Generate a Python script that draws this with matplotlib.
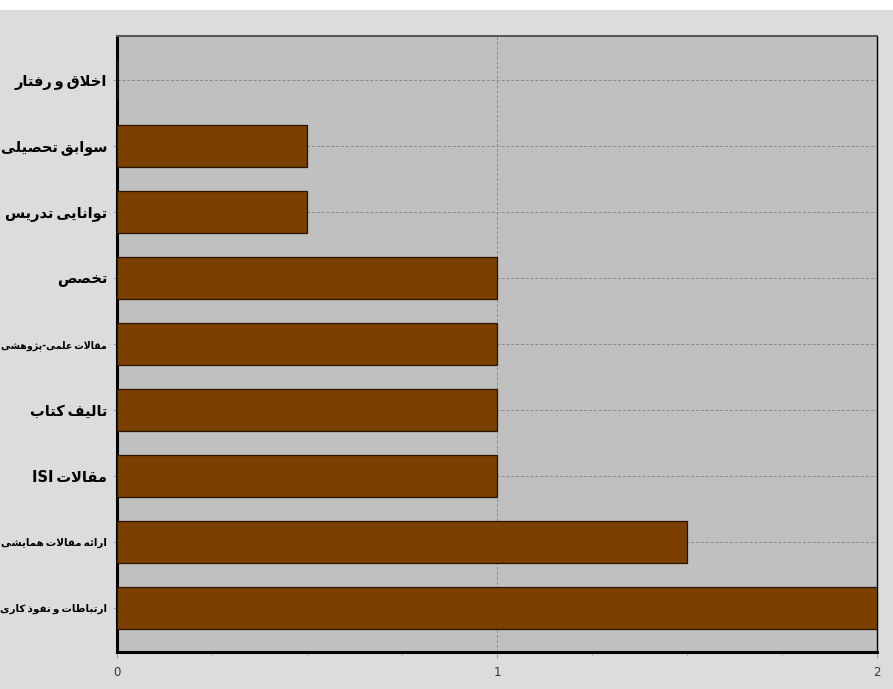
import re
import matplotlib
matplotlib.use("Agg")
import matplotlib.pyplot as plt
from matplotlib.patches import Rectangle
from matplotlib.ticker import MultipleLocator

# ---------------- data ----------------
categories = [
    "اخلاق و رفتار",
    "سوابق تحصیلی",
    "توانایی تدریس",
    "تخصص",
    "مقالات علمی-پژوهشی",
    "تالیف کتاب",
    "مقالات ISI",
    "ارائه مقالات همایشی",
    "ارتباطات و نفوذ کاری",
]
values = [0, 0.5, 0.5, 1, 1, 1, 1, 1.5, 2]
xticks = [0, 1, 2]

# ------------- minimal Persian shaping (presentation forms + RTL) -------------
DUAL = {
    'ب': (0xFE8F, 0xFE90, 0xFE91, 0xFE92), 'پ': (0xFB56, 0xFB57, 0xFB58, 0xFB59),
    'ت': (0xFE95, 0xFE96, 0xFE97, 0xFE98), 'ث': (0xFE99, 0xFE9A, 0xFE9B, 0xFE9C),
    'ج': (0xFE9D, 0xFE9E, 0xFE9F, 0xFEA0), 'چ': (0xFB7A, 0xFB7B, 0xFB7C, 0xFB7D),
    'ح': (0xFEA1, 0xFEA2, 0xFEA3, 0xFEA4), 'خ': (0xFEA5, 0xFEA6, 0xFEA7, 0xFEA8),
    'س': (0xFEB1, 0xFEB2, 0xFEB3, 0xFEB4), 'ش': (0xFEB5, 0xFEB6, 0xFEB7, 0xFEB8),
    'ص': (0xFEB9, 0xFEBA, 0xFEBB, 0xFEBC), 'ض': (0xFEBD, 0xFEBE, 0xFEBF, 0xFEC0),
    'ط': (0xFEC1, 0xFEC2, 0xFEC3, 0xFEC4), 'ظ': (0xFEC5, 0xFEC6, 0xFEC7, 0xFEC8),
    'ع': (0xFEC9, 0xFECA, 0xFECB, 0xFECC), 'غ': (0xFECD, 0xFECE, 0xFECF, 0xFED0),
    'ف': (0xFED1, 0xFED2, 0xFED3, 0xFED4), 'ق': (0xFED5, 0xFED6, 0xFED7, 0xFED8),
    'ک': (0xFB8E, 0xFB8F, 0xFB90, 0xFB91), 'گ': (0xFB92, 0xFB93, 0xFB94, 0xFB95),
    'ل': (0xFEDD, 0xFEDE, 0xFEDF, 0xFEE0), 'م': (0xFEE1, 0xFEE2, 0xFEE3, 0xFEE4),
    'ن': (0xFEE5, 0xFEE6, 0xFEE7, 0xFEE8), 'ه': (0xFEE9, 0xFEEA, 0xFEEB, 0xFEEC),
    'ی': (0xFBFC, 0xFBFD, 0xFBFE, 0xFBFF), 'ئ': (0xFE89, 0xFE8A, 0xFE8B, 0xFE8C),
}
RIGHT = {
    'ا': (0xFE8D, 0xFE8E), 'آ': (0xFE81, 0xFE82), 'د': (0xFEA9, 0xFEAA),
    'ذ': (0xFEAB, 0xFEAC), 'ر': (0xFEAD, 0xFEAE), 'ز': (0xFEAF, 0xFEB0),
    'ژ': (0xFB8A, 0xFB8B), 'و': (0xFEED, 0xFEEE),
}
LAMALEF = {'ا': (0xFEFB, 0xFEFC), 'آ': (0xFEF5, 0xFEF6)}


def shape(text):
    out = []
    n = len(text)
    i = 0
    while i < n:
        c = text[i]
        prev = text[i - 1] if i > 0 else ''
        pc = prev in DUAL
        if c == 'ل' and i + 1 < n and text[i + 1] in LAMALEF:
            f = LAMALEF[text[i + 1]]
            out.append(chr(f[1] if pc else f[0]))
            i += 2
            continue
        nxt = text[i + 1] if i + 1 < n else ''
        if c in DUAL:
            nc = nxt in DUAL or nxt in RIGHT
            f = DUAL[c]
            if pc and nc:
                out.append(chr(f[3]))
            elif pc:
                out.append(chr(f[1]))
            elif nc:
                out.append(chr(f[2]))
            else:
                out.append(chr(f[0]))
        elif c in RIGHT:
            f = RIGHT[c]
            out.append(chr(f[1] if pc else f[0]))
        else:
            out.append(c)
        i += 1
    s = ''.join(out)
    tokens = re.findall(r'[A-Za-z0-9]+|[^A-Za-z0-9]', s)
    return ''.join(reversed(tokens)).replace(' ', '\u2009')


# ---------------- figure ----------------
fig = plt.figure(figsize=(8.93, 6.89), dpi=100)
fig.patch.set_facecolor('#DCDCDC')
fig.patches.append(Rectangle((0, 1 - 10 / 689), 1, 10 / 689, transform=fig.transFigure,
                             facecolor='white', edgecolor='none', zorder=0))

ax = fig.add_axes([117 / 893, 1 - 652 / 689, (877 - 117) / 893, (652 - 36) / 689])
ax.set_facecolor('#C0C0C0')

y = list(range(len(categories)))
ax.barh(y, values, height=0.64, color='#7B3F00', edgecolor='#2A1400', linewidth=0.9, zorder=3)

ax.set_xlim(0, 2)
ax.set_ylim(len(categories) - 1 + 0.667, -0.667)

ax.set_yticks(y)
ax.set_yticklabels([shape(c) for c in categories], fontsize=10.5, fontweight='bold',
                   family=['DejaVu Sans'], color='black')
ax.set_xticks(xticks)
ax.set_xticklabels([str(t) for t in xticks], fontsize=8.5, color='#333333')
ax.xaxis.set_minor_locator(MultipleLocator(0.25))

ax.tick_params(axis='y', length=3, width=0.6, color='#9A9A9A', pad=4)
ax.tick_params(axis='x', which='major', length=4, width=0.7, color='#9A9A9A', pad=6)
ax.tick_params(axis='x', which='minor', length=3, width=0.6, color='#A8A8A8')

ax.grid(axis='y', linestyle=(0, (3, 2)), color='#8A8A8A', linewidth=0.7, zorder=1)
ax.grid(axis='x', which='major', linestyle=(0, (3, 2)), color='#8A8A8A', linewidth=0.7, zorder=1)
ax.set_axisbelow(True)

ax.spines['left'].set_linewidth(2.2)
ax.spines['left'].set_color('black')
ax.spines['bottom'].set_linewidth(2.2)
ax.spines['bottom'].set_color('black')
ax.spines['top'].set_linewidth(1.4)
ax.spines['top'].set_color('#555555')
ax.spines['right'].set_linewidth(1.0)
ax.spines['right'].set_color('black')

# shrink labels that would not fit in the left margin
fig.canvas.draw()
renderer = fig.canvas.get_renderer()
max_w = 107.0
for lab in ax.get_yticklabels():
    w = lab.get_window_extent(renderer).width
    if w > max_w:
        lab.set_fontsize(lab.get_fontsize() * max_w / w)

fig.savefig('out.png', dpi=100, facecolor=fig.get_facecolor())
